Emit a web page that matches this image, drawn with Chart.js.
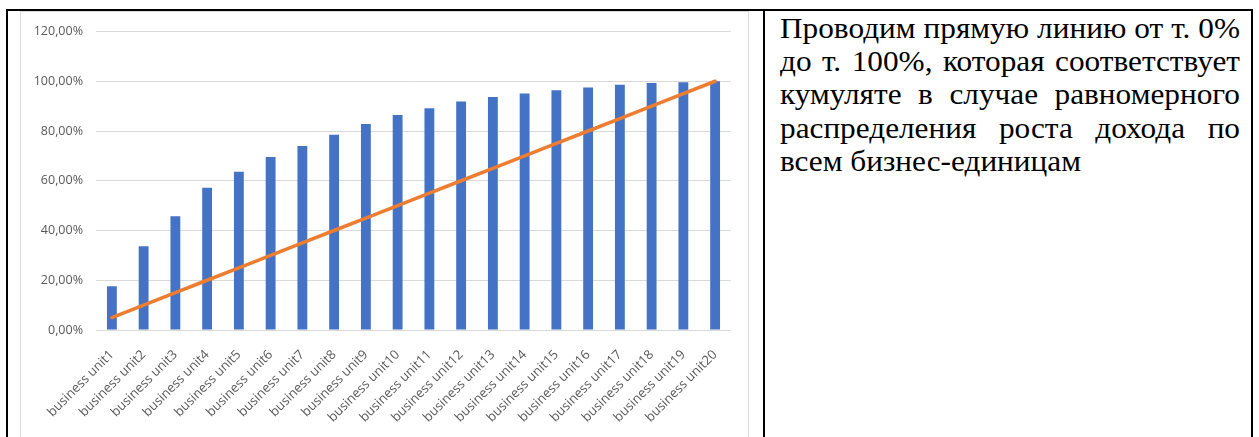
<!DOCTYPE html>
<html>
<head>
<meta charset="utf-8">
<script src="https://cdn.jsdelivr.net/npm/chart.js@4.4.1/dist/chart.umd.min.js"></script>
<style>
  html, body { margin: 0; padding: 0; background: #fff; width: 1259px; height: 437px; overflow: hidden; position: relative; }
  .b { position: absolute; background: #000; }
  #chartBox { position: absolute; left: 20px; top: 11px; width: 729px; height: 440px; border: 1px solid #D9D9D9; box-sizing: border-box; }
  #c { position: absolute; left: 20px; top: 11px; }
  #txt { position: absolute; left: 780px; top: 12px; width: 431px; font-family: 'Liberation Serif', 'Times New Roman', serif; font-size: 29.3px; line-height: 33.2px; color: #000; transform: scaleX(1.0673); transform-origin: 0 0; }
  #txt div { text-align: justify; text-align-last: justify; white-space: nowrap; }
  #txt div.last { text-align-last: left; }
</style>
</head>
<body>
<div class="b" style="left:6px; top:9px; width:1247px; height:2px;"></div>
<div class="b" style="left:6px; top:9px; width:2px; height:440px;"></div>
<div class="b" style="left:763px; top:9px; width:2px; height:440px;"></div>
<div class="b" style="left:1251px; top:9px; width:2px; height:440px;"></div>
<div id="chartBox"></div>
<canvas id="c" width="729" height="426"></canvas>
<div id="txt">
  <div>Проводим прямую линию от т. 0%</div>
  <div>до т. 100%, которая соответствует</div>
  <div>кумуляте в случае равномерного</div>
  <div>распределения роста дохода по</div>
  <div class="last">всем бизнес-единицам</div>
</div>
<script>
const categories = [
  'business unit1','business unit2','business unit3','business unit4','business unit5',
  'business unit6','business unit7','business unit8','business unit9','business unit10',
  'business unit11','business unit12','business unit13','business unit14','business unit15',
  'business unit16','business unit17','business unit18','business unit19','business unit20'
];
const cumulativeShare = [17.6, 33.7, 45.7, 57.2, 63.6, 69.5, 74.0, 78.5, 82.8, 86.4,
                         89.1, 91.9, 93.7, 95.1, 96.4, 97.5, 98.6, 99.3, 99.6, 100.0];
const uniformLine = [5, 10, 15, 20, 25, 30, 35, 40, 45, 50,
                     55, 60, 65, 70, 75, 80, 85, 90, 95, 100];
const yTickValues = [0, 20, 40, 60, 80, 100, 120];

const tickFont = { family: "'Open Sans', sans-serif", size: 12.5 };

new Chart(document.getElementById('c'), {
  data: {
    labels: categories,
    datasets: [
      {
        type: 'line',
        data: uniformLine,
        borderColor: '#ED7D31',
        borderWidth: 3.5,
        pointRadius: 0,
        borderCapStyle: 'round',
        tension: 0,
        order: 0
      },
      {
        type: 'bar',
        data: cumulativeShare,
        backgroundColor: '#4472C4',
        barPercentage: 0.31,
        categoryPercentage: 1.0,
        order: 1
      }
    ]
  },
  options: {
    responsive: false,
    animation: false,
    devicePixelRatio: 1,
    layout: { padding: { top: 19, right: 18, left: 0, bottom: 0 } },
    plugins: { legend: { display: false }, tooltip: { enabled: false } },
    scales: {
      x: {
        grid: { display: false },
        border: { display: false },
        ticks: {
          font: { family: "'Open Sans', sans-serif", size: 13 },
          color: '#595959',
          minRotation: 45,
          maxRotation: 45,
          autoSkip: false,
          padding: 9
        },
        afterFit: (s) => { s.height = 107; }
      },
      y: {
        min: 0,
        max: 120,
        afterBuildTicks: (s) => { s.ticks = yTickValues.map(v => ({ value: v })); },
        grid: { color: '#D9D9D9', lineWidth: 1, drawTicks: false },
        border: { display: false },
        ticks: {
          font: tickFont,
          color: '#595959',
          padding: 13,
          callback: (v) => v.toFixed(2).replace('.', ',') + '%'
        },
        afterFit: (s) => { s.width = 76; }
      }
    }
  }
});
</script>
</body>
</html>
